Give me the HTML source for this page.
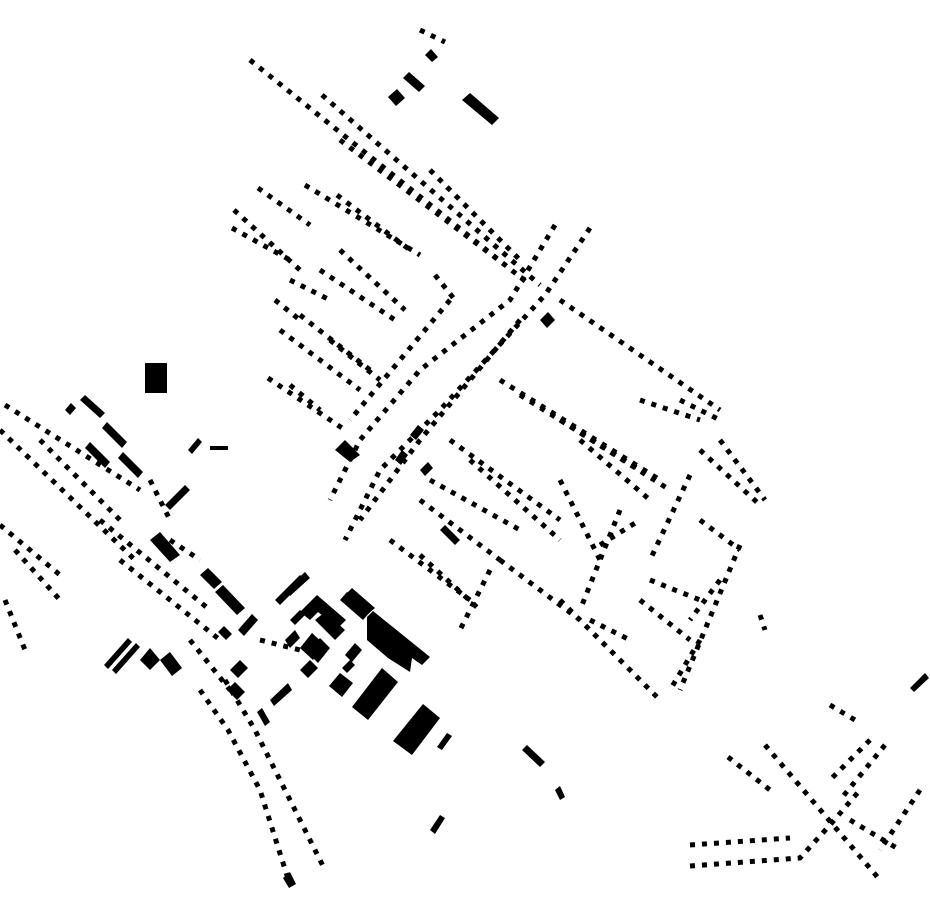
<!DOCTYPE html>
<html><head><meta charset="utf-8"><style>html,body{margin:0;background:#fff}svg{display:block}</style></head>
<body>
<svg width="930" height="924" viewBox="0 0 930 924" xmlns="http://www.w3.org/2000/svg">
<g fill="none" stroke="#000" stroke-width="5" stroke-dasharray="5 7">
<!-- north rows -->
<path d="M250 60 L530 285"/>
<path d="M322 95 L540 285"/>
<path d="M340 140 L505 265"/>
<path d="M305 185 L420 255"/>
<path d="M258 188 L310 225"/>
<path d="M234 210 L300 270"/>
<path d="M232 228 L290 260"/>
<path d="M420 30 L445 42"/>
<path d="M430 170 L520 260"/>
<path d="M337 195 L410 250"/>
<!-- middle block rows -->
<path d="M340 250 L405 310"/>
<path d="M320 270 L395 320"/>
<path d="M290 280 L330 300"/>
<path d="M275 300 L300 320"/>
<path d="M300 315 L370 370"/>
<path d="M280 330 L360 390"/>
<path d="M268 378 L345 430"/>
<path d="M290 385 L320 410"/>
<path d="M330 340 L380 380"/>
<path d="M435 275 L455 300"/>
<!-- main road NE-SW -->
<path d="M590 228 L545 295 L440 410 L380 470 L345 540"/>
<path d="M555 225 L510 300 L420 370 L360 440 L330 500"/>
<path d="M520 320 L470 380 L420 440 L360 520"/>
<path d="M450 300 L400 360 L350 420"/>
<!-- east rows -->
<path d="M560 300 L720 410"/>
<path d="M500 380 L660 480"/>
<path d="M520 395 L640 470"/>
<path d="M560 420 L670 490"/>
<path d="M580 440 L650 500"/>
<path d="M720 440 L765 500"/>
<path d="M700 450 L760 505"/>
<path d="M640 400 L700 420"/>
<path d="M680 400 L720 420"/>
<path d="M450 440 L560 520"/>
<path d="M470 460 L560 540"/>
<path d="M430 480 L520 530"/>
<path d="M420 500 L500 560"/>
<path d="M560 480 L600 560"/>
<path d="M690 475 L650 560"/>
<path d="M600 545 L640 520"/>
<path d="M390 540 L470 600"/>
<path d="M420 555 L480 610"/>
<path d="M500 560 L580 620"/>
<path d="M560 600 L660 700"/>
<path d="M590 620 L630 640"/>
<path d="M700 520 L740 550"/>
<path d="M740 545 L680 690"/>
<path d="M720 580 L690 620"/>
<path d="M650 580 L700 600"/>
<path d="M640 600 L690 640"/>
<path d="M700 640 L670 690"/>
<path d="M620 510 L580 610"/>
<path d="M490 570 L460 630"/>
<!-- west rows -->
<path d="M5 405 L140 490"/>
<path d="M0 430 L135 560"/>
<path d="M40 440 L120 520"/>
<path d="M100 520 L210 610"/>
<path d="M120 560 L220 640"/>
<path d="M0 525 L60 575"/>
<path d="M15 550 L60 600"/>
<path d="M5 600 L25 650"/>
<path d="M150 480 L170 520"/>
<path d="M170 540 L200 560"/>
<!-- southwest road -->
<path d="M200 690 L228 730 L260 790 L290 885"/>
<path d="M225 680 L255 730 L290 800 L325 870"/>
<path d="M260 640 L300 650"/>
<path d="M190 640 L230 690"/>
<!-- southeast -->
<path d="M690 845 L790 838"/>
<path d="M690 866 L800 858 L830 825 L860 790"/>
<path d="M765 745 L880 880"/>
<path d="M728 757 L770 790"/>
<path d="M920 790 L880 850"/>
<path d="M830 705 L855 720"/>
<path d="M885 745 L840 800"/>
<path d="M870 740 L830 780"/>
<path d="M850 820 L900 850"/>
<path d="M760 615 L765 630"/>
</g>
<g fill="#000">
<rect x="145" y="363" width="22" height="30"/>
<polygon points="388,97 397,89 405,98 396,106"/>
<polygon points="403,78 409,72 425,86 419,92"/>
<polygon points="462,100 470,93 499,118 492,125"/>
<polygon points="425,55 431,49 438,57 432,62"/>
<polygon points="65,410 71,403 76,408 70,415"/>
<polygon points="80,400 85,395 105,413 100,418"/>
<polygon points="102,428 107,422 127,442 122,448"/>
<polygon points="85,448 90,442 110,462 105,468"/>
<polygon points="118,458 123,452 143,472 138,478"/>
<polygon points="165,505 185,485 190,490 170,510"/>
<polygon points="188,450 198,438 202,442 192,454"/>
<rect x="210" y="446" width="18" height="4"/>
<polygon points="150,540 160,532 180,555 170,562"/>
<polygon points="200,575 208,568 222,582 214,589"/>
<polygon points="215,592 223,585 245,608 237,615"/>
<polygon points="238,630 252,614 258,620 244,636"/>
<polygon points="104,665 128,638 132,642 108,669"/>
<polygon points="112,670 136,643 140,647 116,674"/>
<polygon points="140,660 150,648 160,660 150,670"/>
<polygon points="160,660 170,652 182,668 172,676"/>
<!-- central cluster -->
<polygon points="367,617 373,611 430,657 422,665 412,658 410,672 388,658 367,640"/>
<polygon points="352,707 382,668 398,682 368,720"/>
<polygon points="393,741 423,704 440,718 412,755"/>
<polygon points="329,686 340,673 353,683 342,697"/>
<polygon points="300,612 317,595 346,620 338,628 318,612 310,620"/>
<polygon points="315,620 325,612 345,630 335,640"/>
<polygon points="340,600 347,592 370,612 363,620"/>
<polygon points="345,595 352,588 375,608 368,614"/>
<polygon points="300,648 312,633 325,645 313,660"/>
<polygon points="308,653 320,638 330,648 318,663"/>
<polygon points="285,640 295,630 300,638 290,648"/>
<polygon points="275,600 300,575 305,580 280,605"/>
<polygon points="285,590 305,572 310,578 290,596"/>
<polygon points="290,620 300,610 305,615 295,625"/>
<polygon points="345,655 355,643 362,650 352,662"/>
<polygon points="342,668 350,660 355,665 347,673"/>
<polygon points="300,670 310,660 318,668 308,678"/>
<polygon points="270,700 288,683 292,690 274,706"/>
<polygon points="257,712 262,708 270,722 265,726"/>
<polygon points="227,690 235,682 245,692 237,700"/>
<polygon points="230,670 240,660 248,668 238,678"/>
<polygon points="218,632 224,626 232,634 226,640"/>
<polygon points="430,830 440,815 445,818 435,834"/>
<polygon points="437,747 447,733 452,736 442,750"/>
<polygon points="522,750 527,745 545,762 540,767"/>
<polygon points="555,790 560,786 565,797 560,800"/>
<polygon points="440,530 445,525 460,540 455,545"/>
<polygon points="540,320 548,312 555,320 547,328"/>
<polygon points="410,435 418,425 424,430 416,440"/>
<polygon points="395,460 402,450 408,455 401,465"/>
<polygon points="420,470 428,462 433,468 425,476"/>
<polygon points="335,450 345,440 360,455 350,462"/>
<polygon points="910,688 925,673 929,678 914,692"/>
<polygon points="283,878 290,872 296,884 289,888"/>
</g>
</svg>
</body></html>
